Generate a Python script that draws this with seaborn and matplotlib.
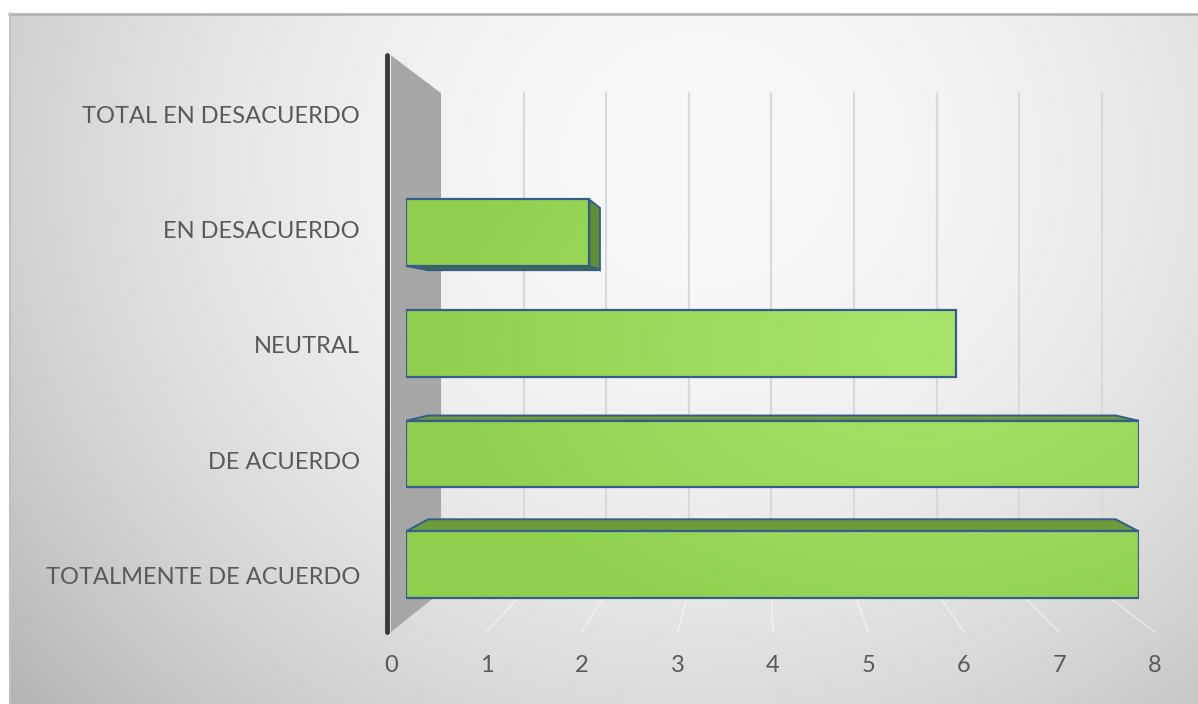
import numpy as np
import pandas as pd
import matplotlib
matplotlib.use("Agg")
import matplotlib.pyplot as plt
import seaborn as sns
from matplotlib.patches import Polygon, Rectangle
from matplotlib.transforms import offset_copy
from matplotlib.colors import to_rgb

# ---------------- data ----------------
categories = ["TOTAL EN DESACUERDO", "EN DESACUERDO", "NEUTRAL", "DE ACUERDO", "TOTALMENTE DE ACUERDO"]
values = [0, 2, 6, 8, 8]
xticks = [0, 1, 2, 3, 4, 5, 6, 7, 8]

# ---------------- style ----------------
W, H = 1198, 704
sns.set_theme(style="white")
plt.rcParams["font.family"] = ["Lato", "DejaVu Sans"]
TXT = "#595959"
EDGE = "#355d8c"

fig = plt.figure(figsize=(W / 100, H / 100), dpi=100)

# background panel (pixel coordinates)
bg = fig.add_axes([0, 0, 1, 1])
bg.set_xlim(0, W)
bg.set_ylim(H, 0)
bg.axis("off")
yy, xx = np.mgrid[0:H, 0:W]
r2 = ((xx - 700) / 700.0) ** 2 + ((yy - 160) / 640.0) ** 2
g = np.clip(0.975 - 0.16 * r2, 0, 1)
bg.imshow(np.dstack([g, g, g]), extent=[0, W, H, 0], aspect="auto", zorder=0)
bg.add_patch(Rectangle((0, 0), W, 13, color="white", zorder=1))
bg.add_patch(Rectangle((0, 0), 9, H, color="white", zorder=1))
bg.plot([9, W], [14, 14], color="#b4b4b4", lw=2, zorder=2)
bg.plot([10, 10], [13, H], color="#c0c0c0", lw=1.5, zorder=2)
bg.set_xlim(0, W)
bg.set_ylim(H, 0)

# main axes: plane of bar front faces
ax = fig.add_axes([406 / W, (H - 620) / H, 733 / W, 553.3 / H])
ax.patch.set_alpha(0)
df = pd.DataFrame({"cat": categories, "val": values})
sns.barplot(data=df, x="val", y="cat", order=categories, orient="h", width=0.6,
            color="#97d654", edgecolor=EDGE, linewidth=1.6, ax=ax, zorder=3)
bars = list(ax.patches)
XMIN, XMAX = xticks[0], xticks[-1]
YTOP, YBOT = -0.5, len(categories) - 0.5
ax.set_xlim(XMIN, XMAX)
ax.set_ylim(YBOT, YTOP)

# simple perspective projection (vanishing point in data coords)
VX, VY = 3.881, 1.925
D_FRONT_BAR, D_BACK_BAR = 0.30, 0.74


def k(d):
    return (1 - 0.135 * d) / (1 - 0.135 * D_FRONT_BAR)


def P(v, c, d):
    kk = k(d)
    return (VX + (v - VX) * kk, VY + (c - VY) * kk)


# left wall
wall = Polygon([P(XMIN, YTOP, 0), P(XMIN, YTOP, 1), P(XMIN, YBOT, 1), P(XMIN, YBOT, 0)],
               closed=True, facecolor="#a6a6a6", edgecolor="none", zorder=1, clip_on=False)
ax.add_patch(wall)
x0, y0 = P(XMIN - 0.04, YTOP, 0)
x1, y1 = P(XMIN - 0.04, YBOT, 0)
ax.plot([x0, x1], [y0, y1], color="#3a3a3a", lw=3.5, solid_capstyle="round", zorder=2, clip_on=False)

# back-wall gridlines and floor lines
for v in xticks[1:]:
    a, b = P(v, YTOP, 1), P(v, YBOT, 1)
    ax.plot([a[0], b[0]], [a[1], b[1]], color="#d9d9d9", lw=1.5, zorder=1, clip_on=False)
for v in xticks[1:]:
    a, b = P(v, YBOT, 1), P(v, YBOT, 0)
    ax.plot([a[0], b[0]], [a[1], b[1]], color="white", alpha=0.45, lw=1.2, zorder=1, clip_on=False)

# gradient for bar fronts
gx, gy = np.meshgrid(np.linspace(XMIN, XMAX, 300), np.linspace(YTOP, YBOT, 200))
t = np.clip(1 - np.sqrt(((gx - 5.6) / 5.5) ** 2 + ((gy - 2.0) / 3.0) ** 2), 0, 1)
c0, c1 = np.array(to_rgb("#8fcf4d")), np.array(to_rgb("#a8e56c"))
grad = c0[None, None, :] * (1 - t[..., None]) + c1[None, None, :] * t[..., None]

for p in bars:
    w = p.get_width()
    if w <= 0:
        p.set_visible(False)
        continue
    top, bot = p.get_y(), p.get_y() + p.get_height()
    v = p.get_x() + w
    # right side face
    if P(v, top, D_BACK_BAR)[0] > v:
        ax.add_patch(Polygon([P(v, top, D_FRONT_BAR), P(v, top, D_BACK_BAR),
                              P(v, bot, D_BACK_BAR), P(v, bot, D_FRONT_BAR)],
                             facecolor="#5e8f33", edgecolor=EDGE, lw=1.4, zorder=2))
    # top face
    if top > VY:
        ax.add_patch(Polygon([P(0, top, D_FRONT_BAR), P(v, top, D_FRONT_BAR),
                              P(v, top, D_BACK_BAR), P(0, top, D_BACK_BAR)],
                             facecolor="#6e9c3c", edgecolor=EDGE, lw=1.4, zorder=2))
    # bottom face
    if bot < VY:
        ax.add_patch(Polygon([P(0, bot, D_FRONT_BAR), P(v, bot, D_FRONT_BAR),
                              P(v, bot, D_BACK_BAR), P(0, bot, D_BACK_BAR)],
                             facecolor="#3f6b3a", edgecolor=EDGE, lw=1.4, zorder=2))
    im = ax.imshow(grad, extent=[XMIN, XMAX, YBOT, YTOP], aspect="auto",
                   interpolation="bilinear", zorder=3)
    im.set_clip_path(p)
    p.set_facecolor("none")
    p.set_zorder(4)

ax.set_xlim(XMIN, XMAX)
ax.set_ylim(YBOT, YTOP)
ax.set_aspect("auto")

# labels
ytr = offset_copy(ax.transData, fig=fig, x=-31, y=-3, units="dots")
for i, cat in enumerate(categories):
    px, py = P(XMIN, i, 0)
    ax.text(px, py, cat, transform=ytr, ha="right", va="center", fontsize=17, color=TXT, clip_on=False)
xtr = offset_copy(ax.transData, fig=fig, x=0, y=-33, units="dots")
for v in xticks:
    px, py = P(v, YBOT, 0)
    ax.text(px, py, str(v), transform=xtr, ha="center", va="center", fontsize=17, color=TXT, clip_on=False)

ax.set_xticks([])
ax.set_yticks([])
ax.set_xlabel("")
ax.set_ylabel("")
for s in ax.spines.values():
    s.set_visible(False)

fig.savefig("out.png", dpi=100)
